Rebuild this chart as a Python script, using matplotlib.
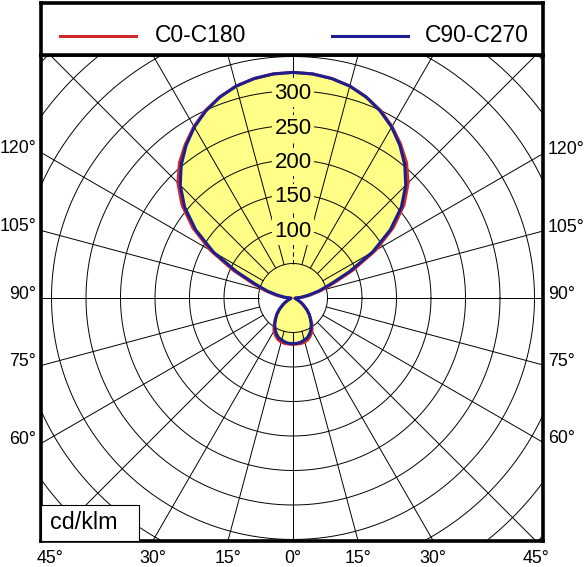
import numpy as np
import matplotlib
matplotlib.use("Agg")
import matplotlib.pyplot as plt
from matplotlib.patches import Rectangle

plt.rcParams["font.family"] = ["Liberation Sans", "DejaVu Sans"]

# -- Data: luminous intensity in cd/klm, gamma 0 (down) .. 180 (up) ----------
GAMMA = np.arange(0, 181, 5)
I_C0_C180 = [67, 67, 67, 66, 64, 60, 55, 48, 40, 33, 26, 19, 14, 9, 6, 4, 3, 3,
             5, 14, 26, 42, 62, 96, 138, 177, 210, 236, 256, 272, 287, 300,
             310, 318, 323, 326, 327]
I_C90_C270 = [66, 66, 65, 63, 61, 57, 52, 46, 39, 33, 26, 19, 14, 9, 6, 4, 3, 3,
              4, 12, 22, 38, 57, 90, 133, 172, 205, 231, 252, 270, 286, 299,
              310, 318, 323, 326, 327]
SERIES = ["C0-C180", "C90-C270"]

RING_VALUES = np.arange(50, 501, 50)
RING_LABELS = [100, 150, 200, 250, 300]
SPOKE_ANGLES = np.arange(0, 360, 15)
SIDE_LABELS = [60, 75, 90, 105, 120]
BOTTOM_LABELS = [45, 30, 15, 0]
UNIT = "cd/klm"

# -- Style -------------------------------------------------------------------
C_RED = "#D02A2A"
C_BLUE = "#1E1E8E"
C_FILL = "#FFFF88"
C_GRID = "#000000"
FRAME_LW = 2.6

W, H = 585, 567
fig = plt.figure(figsize=(W / 100, H / 100), dpi=100, facecolor="white")

# plot frame in pixels: x 41..543, y 55..541, pole at (293, 298)
ax = fig.add_axes([41 / W, (H - 541) / H, 502 / W, 486 / H])
scale = 0.69  # px per cd/klm
xmin, xmax = -252 / scale, 250 / scale
ymin, ymax = -243 / scale, 243 / scale
ax.set_xlim(xmin, xmax)
ax.set_ylim(ymin, ymax)
ax.set_xticks([])
ax.set_yticks([])
for sp in ax.spines.values():
    sp.set_linewidth(FRAME_LW)


def curve_xy(values):
    g = np.radians(GAMMA)
    v = np.asarray(values, float)
    x_r, y_r = v * np.sin(g), -v * np.cos(g)
    return (np.concatenate([x_r, -x_r[::-1]]),
            np.concatenate([y_r, y_r[::-1]]))


xr, yr = curve_xy(I_C0_C180)
xb, yb = curve_xy(I_C90_C270)

# fill under the grid
ax.fill(xr, yr, color=C_FILL, lw=0, zorder=1)
ax.fill(xb, yb, color=C_FILL, lw=0, zorder=1)

# rings
t = np.linspace(0, 2 * np.pi, 721)
for r in RING_VALUES:
    ax.plot(r * np.cos(t), r * np.sin(t), color=C_GRID, lw=0.7, zorder=2)

# spokes from the 50 ring outward
r_in = RING_VALUES[0]
top_val = I_C90_C270[-1]
for a in SPOKE_ANGLES:
    g = np.radians(a)
    sx, sy = np.sin(g), -np.cos(g)
    if a == 180:
        ax.plot([r_in * sx, top_val * sx], [r_in * sy, top_val * sy],
                color=C_GRID, lw=0.7, ls=(0, (4.5, 3.5)), zorder=2)
        ax.plot([top_val * sx, 800 * sx], [top_val * sy, 800 * sy],
                color=C_GRID, lw=0.7, zorder=2)
    else:
        ax.plot([r_in * sx, 800 * sx], [r_in * sy, 800 * sy],
                color=C_GRID, lw=0.7, zorder=2)

# ring labels on the upward axis
for v in RING_LABELS:
    ax.text(0, v, str(v), ha="center", va="center_baseline", fontsize=16,
            zorder=4, bbox=dict(boxstyle="square,pad=0.12", fc=C_FILL, ec="none"))

# curves
ax.plot(xr, yr, color=C_RED, lw=2.2, zorder=5, solid_joinstyle="round")
ax.plot(xb, yb, color=C_BLUE, lw=2.2, zorder=6, solid_joinstyle="round")

# angle labels on the sides (where spokes meet the frame)
for a in SIDE_LABELS:
    yl = xmin / np.tan(np.radians(a))
    yr_ = -xmax / np.tan(np.radians(a))
    ax.annotate(f"{a}°", xy=(xmin, yl), xytext=(-3.5, 4.3),
                textcoords="offset points", ha="right", va="center_baseline",
                fontsize=12.8, annotation_clip=False)
    ax.annotate(f"{a}°", xy=(xmax, yr_), xytext=(3.5, 4.3),
                textcoords="offset points", ha="left", va="center_baseline",
                fontsize=12.8, annotation_clip=False)

# angle labels along the bottom
for a in BOTTOM_LABELS:
    xh = -ymin * np.tan(np.radians(a))
    for sx in ([1] if a == 0 else [-1, 1]):
        ax.annotate(f"{a}°", xy=(sx * xh, ymin), xytext=(0, -11.5),
                    textcoords="offset points", ha="center",
                    va="center_baseline", fontsize=12.8, annotation_clip=False)

# unit box, lower left
ax.add_patch(Rectangle((0, 0), 98 / 502, 36 / 486, transform=ax.transAxes,
                       fc="white", ec="black", lw=0.8, zorder=7))
ax.text(9 / 502, 11.7 / 486, UNIT, transform=ax.transAxes, ha="left",
        va="baseline", fontsize=16.8, zorder=8)

# -- Legend strip ------------------------------------------------------------
lg = fig.add_axes([41 / W, (H - 55) / H, 502 / W, 52 / H])
lg.set_xlim(0, 1)
lg.set_ylim(0, 1)
lg.set_xticks([])
lg.set_yticks([])
for sp in lg.spines.values():
    sp.set_linewidth(FRAME_LW)
for (x0, x1, xt), col, name in zip([(0.038, 0.189, 0.227), (0.580, 0.731, 0.765)],
                                   [C_RED, C_BLUE], SERIES):
    lg.plot([x0, x1], [0.36, 0.36], color=col, lw=2.2)
    lg.text(xt, 0.256, name, ha="left", va="baseline", fontsize=16.5)

fig.savefig("out.png", dpi=100, facecolor="white")
